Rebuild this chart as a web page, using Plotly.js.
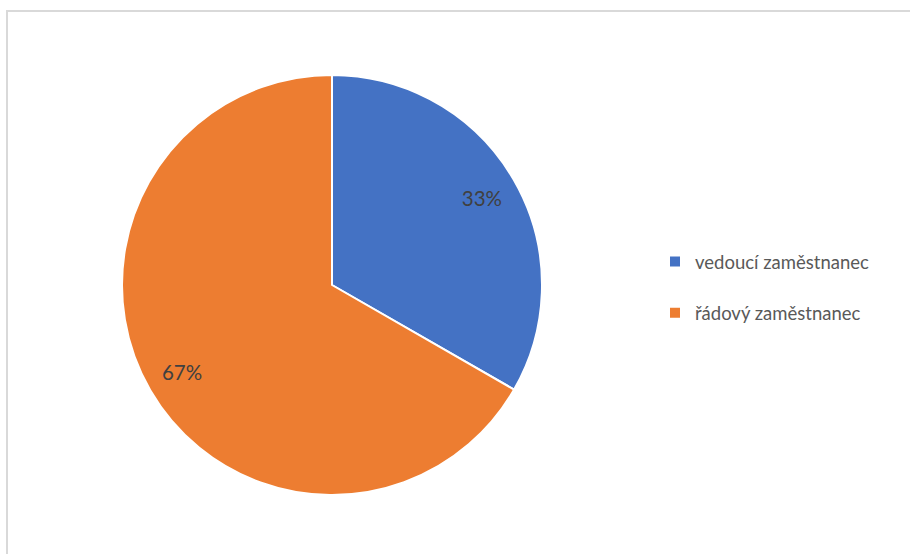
<!DOCTYPE html>
<html>
<head>
<meta charset="utf-8">
<script src="https://cdn.plot.ly/plotly-3.0.1.min.js"></script>
<style>
  html, body { margin: 0; padding: 0; background: #fff; overflow: hidden; }
  #frame { position: absolute; left: 6px; top: 10px; width: 1000px; height: 700px;
           border-left: 2px solid #d9d9d9; border-top: 2px solid #d9d9d9; }
  #chart { position: absolute; left: 0; top: 0; width: 910px; height: 554px; }
</style>
</head>
<body>
<div id="frame"></div>
<div id="chart"></div>
<script>
const categories = ['vedoucí zaměstnanec', 'řádový zaměstnanec'];
const values = [33.3, 66.7];
const colors = ['#4472C4', '#ED7D31'];

const W = 910, H = 554;
const cx = 332, cy = 285, R = 210;
const domain = {
  x: [(cx - R) / W, (cx + R) / W],
  y: [(H - cy - R) / H, (H - cy + R) / H]
};

const pieBase = {
  type: 'pie',
  values: values,
  labels: categories.map(c => c + '<br> '),
  sort: false,
  direction: 'clockwise',
  rotation: 0,
  domain: domain,
  hoverinfo: 'skip'
};

const data = [
  Object.assign({}, pieBase, {
    marker: { colors: colors, line: { color: '#ffffff', width: 2 } },
    textinfo: 'none',
    showlegend: true
  }),
  Object.assign({}, pieBase, {
    hole: 0.65,
    marker: { colors: ['rgba(0,0,0,0)', 'rgba(0,0,0,0)'], line: { width: 0 } },
    texttemplate: '%{percent:.0%}',
    textposition: 'inside',
    insidetextorientation: 'horizontal',
    textfont: { family: 'Lato, sans-serif', size: 20.5, color: '#404040' },
    showlegend: false
  })
];

const layout = {
  width: W, height: H,
  margin: { l: 0, r: 0, t: 0, b: 0 },
  paper_bgcolor: 'rgba(0,0,0,0)',
  plot_bgcolor: 'rgba(0,0,0,0)',
  showlegend: true,
  legend: {
    x: 655 / W, xanchor: 'left',
    y: (H - 243) / H, yanchor: 'top',
    valign: 'top',
    font: { family: 'Lato, sans-serif', size: 18.5, color: '#595959' },
    bgcolor: 'rgba(0,0,0,0)'
  }
};

Plotly.newPlot('chart', data, layout, { displayModeBar: false, staticPlot: true });
</script>
</body>
</html>
